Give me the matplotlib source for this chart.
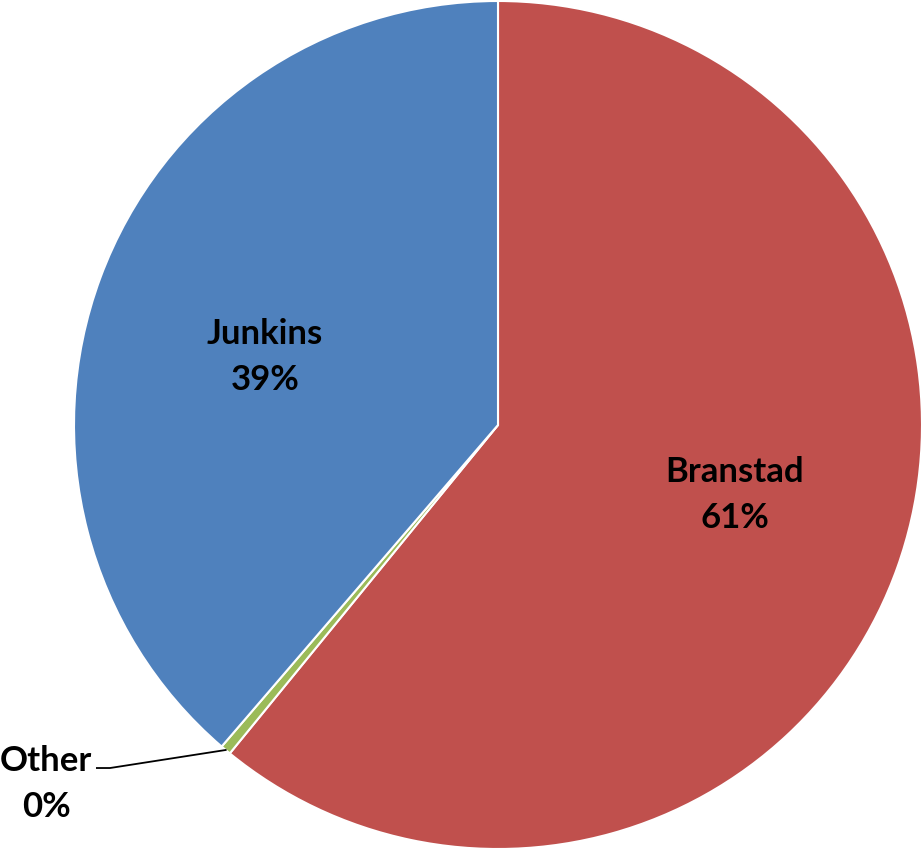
import numpy as np
import matplotlib.pyplot as plt

candidates = ['Branstad', 'Other', 'Junkins']
shares = [60.9, 0.4, 38.7]
colors = ['#C0504D', '#9BBB59', '#4F81BD']

fig = plt.figure(figsize=(9.24, 8.49), dpi=100)
ax = fig.add_axes([0, 0, 1, 1])

wedges, _ = ax.pie(shares, colors=colors, startangle=90, counterclock=False,
                   radius=1.0, wedgeprops=dict(edgecolor='white', linewidth=1.5))

ax.set_xlim(-498 / 424, (924 - 498) / 424)
ax.set_ylim(-(849 - 425) / 424, 425 / 424)
ax.set_aspect('auto')
ax.axis('off')

font = dict(family=['Lato', 'DejaVu Sans'], fontsize=25, fontweight='bold',
            ha='center', va='center', color='black', linespacing=1.55)

def label(name, value):
    return f"{name}\n{round(value)}%"

# inside labels for the two large slices
ax.text(0.559, -0.165, label(candidates[0], shares[0]), **font)
ax.text(-0.55, 0.16, label(candidates[2], shares[2]), **font)

# the tiny slice gets an outside label with a leader line
w = wedges[1]
mid = np.deg2rad((w.theta1 + w.theta2) / 2)
tip = (np.cos(mid), np.sin(mid))
elbow = (-0.915, -0.809)
ax.plot([tip[0], elbow[0], -0.946], [tip[1], elbow[1], -0.809],
        color='black', lw=1.3)
ax.text(-1.066, -0.846, label(candidates[1], shares[1]), **font)

fig.savefig('out.png', dpi=100)
